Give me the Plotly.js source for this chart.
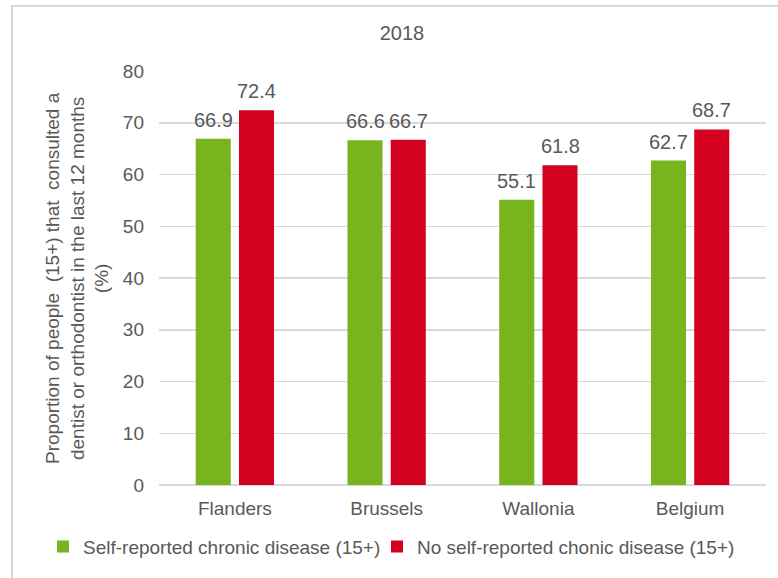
<!DOCTYPE html>
<html>
<head>
<meta charset="utf-8">
<script src="https://cdn.plot.ly/plotly-3.0.1.min.js"></script>
<style>
  html, body { margin: 0; padding: 0; background: #fff; }
  #wrap { position: relative; width: 778px; height: 578px; }
  #chart { position: absolute; left: 0; top: 0; width: 778px; height: 578px; }
  #frame { position: absolute; left: 11px; top: 5px; right: 0; bottom: 0;
           border-top: 2px solid #d9d9d9; border-left: 2px solid #d9d9d9; pointer-events: none; }
</style>
</head>
<body>
<div id="wrap">
  <div id="chart"></div>
  <div id="frame"></div>
</div>
<script>
var categories = ["Flanders", "Brussels", "Wallonia", "Belgium"];
var seriesNames = ["Self-reported chronic disease (15+)", "No self-reported chonic disease (15+)"];
var chronic = [66.9, 66.6, 55.1, 62.7];
var noChronic = [72.4, 66.7, 61.8, 68.7];
var yTickVals = [0, 10, 20, 30, 40, 50, 60, 70, 80];
var chartTitle = "2018";
var yTitle = "Proportion of people&nbsp; (15+) that&nbsp; consulted a<br>dentist or orthodontist in the last 12 months<br>(%)";

var FONT = "Liberation Sans, Arial, sans-serif";
var GREY = "#595959";
var colors = ["#78b41e", "#d4001f"];

var PL = 159, PR = 766, PT = 71, PB = 487;
var PW = PR - PL, PH = PB - PT;

var traces = [
  { type: "bar", name: seriesNames[0], x: categories, y: chronic, legend: "legend",
    marker: { color: colors[0] }, hoverinfo: "x+y" },
  { type: "bar", name: seriesNames[1], x: categories, y: noChronic, legend: "legend2",
    marker: { color: colors[1] }, hoverinfo: "x+y" }
];

var bargap = 0.43;
var catPx = PW / categories.length;
var offPx = (1 - bargap) / 4 * catPx;

var annotations = [];
[chronic, noChronic].forEach(function (vals, s) {
  vals.forEach(function (v, i) {
    annotations.push({
      x: categories[i], y: v, xref: "x", yref: "y",
      text: v.toFixed(1), showarrow: false,
      xanchor: "center", yanchor: "bottom",
      xshift: (s === 0 ? -1 : 1) * offPx, yshift: 6,
      font: { family: FONT, size: 20, color: GREY }
    });
  });
});
annotations.push({
  xref: "paper", yref: "paper", x: 0, y: 0.5,
  xanchor: "center", yanchor: "middle", xshift: -82, yshift: 0,
  textangle: -90, showarrow: false, text: yTitle, align: "center",
  font: { family: FONT, size: 19, color: GREY }
});

function legendAt(textStartPx) {
  return { orientation: "h", x: (textStartPx - 40 - PL) / PW, xanchor: "left",
           y: (PB - 549) / PH, yanchor: "middle",
           font: { family: FONT, size: 19, color: GREY }, itemwidth: 30,
           bgcolor: "rgba(0,0,0,0)", borderwidth: 0 };
}

var layout = {
  width: 778, height: 578,
  margin: { l: PL, r: 778 - PR, t: PT, b: 578 - PB, pad: 0 },
  paper_bgcolor: "#ffffff", plot_bgcolor: "#ffffff",
  font: { family: FONT, size: 19, color: GREY },
  title: { text: chartTitle, font: { family: FONT, size: 20, color: GREY },
           xref: "container", yref: "container", x: 402 / 778, y: 1 - 33 / 578,
           xanchor: "center", yanchor: "middle" },
  barmode: "group", bargap: bargap, bargroupgap: 0.19,
  showlegend: true,
  legend: legendAt(83),
  legend2: legendAt(417),
  xaxis: { type: "category", showgrid: false, showline: false, zeroline: false,
           ticks: "", ticklabelstandoff: 10, tickfont: { family: FONT, size: 19, color: GREY },
           fixedrange: true },
  yaxis: { range: [0, 80], tickvals: yTickVals, ticktext: yTickVals.map(String),
           showgrid: true, gridcolor: "#d9d9d9", gridwidth: 1.5,
           zeroline: true, zerolinecolor: "#d9d9d9", zerolinewidth: 2,
           showline: false, ticks: "", ticklabelstandoff: 14,
           tickfont: { family: FONT, size: 19, color: GREY }, fixedrange: true },
  annotations: annotations
};

Plotly.newPlot("chart", traces, layout, { displayModeBar: false, staticPlot: true });
</script>
</body>
</html>
